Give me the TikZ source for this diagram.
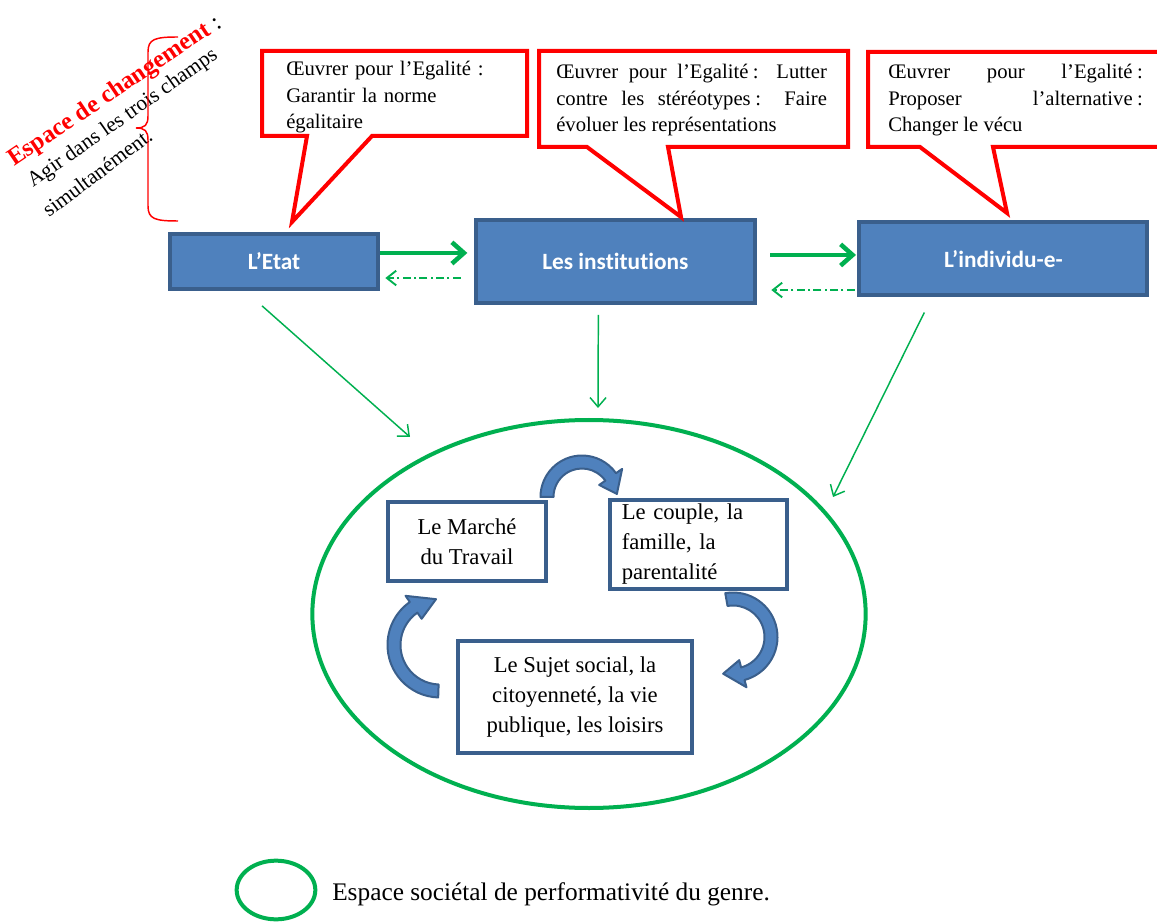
\documentclass[tikz,border=0pt]{standalone}
\usepackage{fontspec}
\setmainfont{Liberation Serif}
\newfontfamily\boxfont[Ligatures=NoCommon]{Carlito}
\usetikzlibrary{arrows.meta,positioning,shapes.geometric}
\definecolor{boxblue}{HTML}{4F81BD}
\definecolor{boxedge}{HTML}{3A5F8C}
\definecolor{ovalgreen}{HTML}{00B050}
\tikzset{
  actor/.style={draw=boxedge, fill=boxblue, line width=3pt, text=white, inner sep=0pt,
                font=\boxfont\bfseries\fontsize{17.5}{20}\selectfont},
  field/.style={draw=boxedge, fill=white, line width=3pt, inner sep=0pt, align=center,
                font=\fontsize{17}{22.5}\selectfont},
  bubble/.style={draw=red, fill=white, line width=3pt, line join=miter},
  bubbletext/.style={anchor=north west, inner sep=0pt, font=\fontsize{15.5}{20}\selectfont},
  push/.style={draw=ovalgreen, line width=3.4pt, -{Straight Barb[length=9pt, width=16pt]}},
  back/.style={draw=ovalgreen, line width=1.4pt, dash pattern=on 6pt off 2.5pt on 1.5pt off 2.5pt,
               -{Straight Barb[length=7pt, width=11pt]}},
  feed/.style={draw=ovalgreen, line width=1.1pt, -{Straight Barb[length=7pt, width=12pt]}},
  loopblock/.style={draw=boxedge, fill=boxblue, line width=1.5pt, line join=round},
  slanted/.style={anchor=base west, inner sep=0pt, font=\fontsize{16}{20}\selectfont},
}
% curved block arrow: centre x, centre y, radius, start, end, tip angle
\newcommand{\turnarrow}[6]{%
  \draw[loopblock] ([shift={(#4:#3+6.5)}]#1,#2)
    arc[start angle=#4, end angle=#5, radius=#3+6.5]
    -- ([shift={(#5:#3+14)}]#1,#2)
    -- ([shift={(#6:#3)}]#1,#2)
    -- ([shift={(#5:#3-14)}]#1,#2)
    -- ([shift={(#5:#3-6.5)}]#1,#2)
    arc[start angle=#5, end angle=#4, radius=#3-6.5]
    -- cycle;}
\newcommand{\colonsp}{\kern.22em:}

\begin{document}
\begin{tikzpicture}[x=0.75pt, y=-0.75pt]
  \fill[white] (0,0) rectangle (1157,923);
  \useasboundingbox (0,0) rectangle (1157,923);

  % left margin note
  \node[slanted, rotate=34, text=red, font=\bfseries\fontsize{18.5}{22}\selectfont] (space) at (14,167)
    {Espace de changement\textcolor{black}{\mdseries\ :}};
  \node[slanted, rotate=35] (act) at (33,188) {Agir dans les trois champs};
  \node[slanted, rotate=37] (act2) at (49,218) {simultanément.};
  \draw[red, line width=1.1pt] (178,37) .. controls (155,37) and (148,39) .. (148,52) -- (148,116)
    .. controls (148,125) and (145,128) .. (136,128) .. controls (145,128) and (148,131) .. (148,140)
    -- (148,206) .. controls (148,219) and (155,221) .. (178,221);

  % the three actors
  \node[actor, minimum width=156pt, minimum height=41pt] (etat) at (274,261.5) {L’Etat};
  \node[actor, minimum width=209pt, minimum height=62pt, right=70.5pt of etat] (inst) {Les institutions};
  \node[actor, minimum width=216pt, minimum height=55pt, right=75.5pt of inst, yshift=2pt] (indiv) {L’individu-e-};

  % callouts
  \draw[bubble] (262,51) -- (527,51) -- (527,136) -- (372,136) -- (292,222) -- (307,136) -- (262,136) -- cycle;
  \node[bubbletext, text width=190pt, align=left] (normtext) at (286,61)
    {Œuvrer pour l’Egalité~:\\Garantir la norme\\égalitaire};
  \draw[bubble] (539,51) -- (848,51) -- (848,147) -- (668,147) -- (681,217) -- (587,147) -- (539,147) -- cycle;
  \node[bubbletext, text width=203pt, align=justify] (stereotext) at (556,64)
    {Œuvrer pour l’Egalité\colonsp{} Lutter\linebreak contre les stéréotypes\colonsp{} Faire\linebreak évoluer les représentations};
  \draw[bubble] (868,52) -- (1185,52) -- (1185,147) -- (993,147) -- (1007,213) -- (920,147) -- (868,147) -- cycle;
  \node[bubbletext, text width=191pt, align=justify] (livedtext) at (888,64)
    {Œuvrer pour l’Egalité\colonsp\linebreak Proposer l’alternative\colonsp\linebreak Changer le vécu};

  % links between actors
  \draw[push, shorten >=5pt] ([yshift=6.4pt]etat.east) -- ([yshift=6.4pt]etat.east -| inst.west);
  \draw[back, shorten <=10pt, shorten >=4pt] ([yshift=-12.4pt]inst.west) -- ([yshift=-12.4pt]inst.west -| etat.east);
  \draw[push, shorten <=10pt, shorten >=1pt] ([yshift=4.9pt]inst.east) -- ([yshift=4.9pt]inst.east -| indiv.west);
  \draw[back, shorten <=2pt, shorten >=11pt] ([yshift=-21.4pt]indiv.west |- inst.center) -- ([yshift=-21.4pt]inst.east);

  % societal space
  \node[draw=ovalgreen, line width=3pt, ellipse, minimum width=415pt, minimum height=291pt, inner sep=0pt] (society) at (589,614) {};
  \coordinate (landA) at (410,437);
  \coordinate (landB) at (598,408);
  \coordinate (landC) at (833,497);
  \draw[feed] (etat.south) ++(-12,15) -- (landA);
  \draw[feed] (inst.south) ++(-17,10) -- (landB);
  \draw[feed] (indiv.south) ++(-79,15) -- (landC);

  \turnarrow{582}{497}{35}{180}{325}{355}
  \turnarrow{733}{637}{38}{-100}{75}{105}
  \turnarrow{440}{645}{46}{92}{235}{265}

  \node[field, minimum width=118.5pt, minimum height=59pt] (market) at (467,541.5) {Le Marché\\du Travail};
  \node[field, minimum width=133pt, minimum height=67pt, text width=115pt, align=left] (couple) at (698.5,544.5)
    {Le couple, la\\famille, la\\parentalité};
  \node[field, minimum width=175.5pt, minimum height=84pt] (subject) at (575,697)
    {Le Sujet social, la\\citoyenneté, la vie\\publique, les loisirs};

  % legend
  \node[draw=ovalgreen, line width=3pt, ellipse, minimum width=59pt, minimum height=44pt, inner sep=0pt] (key) at (276,890) {};
  \node[right=11pt of key, yshift=-3.5pt, inner sep=0pt, font=\fontsize{19}{23}\selectfont] (keytext)
    {Espace sociétal de performativité du genre.};
\end{tikzpicture}
\end{document}
